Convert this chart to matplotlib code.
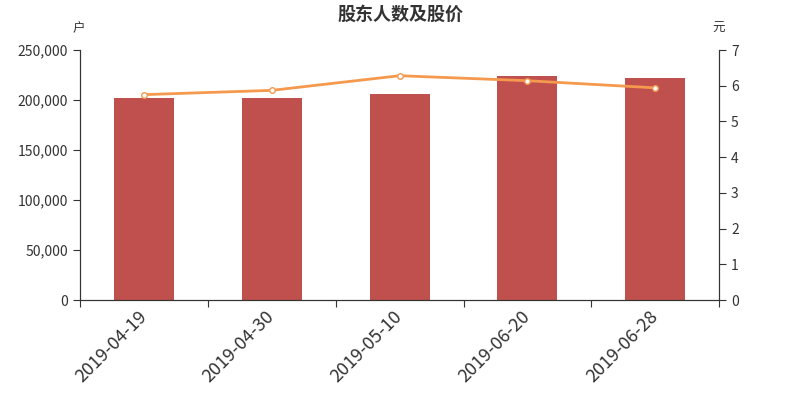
import numpy as np
from matplotlib import pyplot as plt

plt.rcParams['font.family'] = ['Noto Sans CJK SC', 'DejaVu Sans']

#Daten
dates = ['2019-04-19', '2019-04-30', '2019-05-10', '2019-06-20', '2019-06-28']
holders = [202000, 201700, 205800, 223800, 221800]
price = [5.75, 5.87, 6.28, 6.14, 5.94]

fig = plt.figure(figsize=(8, 4), dpi=100)
ax1 = fig.add_axes([0.1, 0.25, 0.799, 0.625])
x = np.arange(len(dates))

ax1.bar(x, holders, width=0.47, color='#c0504d', zorder=2)
ax1.set_xlim(-0.5, len(dates) - 0.5)
ax1.set_ylim(0, 250000)
ax1.set_yticks(np.arange(0, 250001, 50000))
ax1.set_yticklabels(['{:,}'.format(v) for v in range(0, 250001, 50000)])
ax1.set_xticks(np.arange(-0.5, len(dates), 1.0))
ax1.set_xticklabels([])
ax1.set_xticks(x, minor=True)
ax1.set_xticklabels(dates, minor=True, rotation=45, ha='right', va='center',
                    rotation_mode='anchor', fontsize=13, color='#333333')
ax1.tick_params(axis='x', which='minor', length=0, pad=10)
ax1.tick_params(axis='x', which='major', length=5, color='#333333')
ax1.tick_params(axis='y', labelsize=10, colors='#333333', length=5)

ax2 = ax1.twinx()
ax2.plot(x, price, color='#f5994e', lw=2, marker='o', ms=4,
         markerfacecolor='white', markeredgecolor='#f5994e', markeredgewidth=1, zorder=3)
ax2.set_ylim(0, 7)
ax2.set_yticks(range(0, 8))
ax2.tick_params(axis='y', labelsize=10, colors='#333333', length=5)

for a in (ax1, ax2):
    a.spines['top'].set_visible(False)
    for s in ('left', 'right', 'bottom'):
        a.spines[s].set_color('#333333')

fig.text(0.5, 0.965, '股东人数及股价', ha='center', va='center', fontsize=13,
         fontweight='bold', color='#333333')
fig.text(0.098, 0.928, '户', ha='center', va='center', fontsize=9, color='#333333')
fig.text(0.898, 0.928, '元', ha='center', va='center', fontsize=9, color='#333333')

fig.savefig('out.png')
